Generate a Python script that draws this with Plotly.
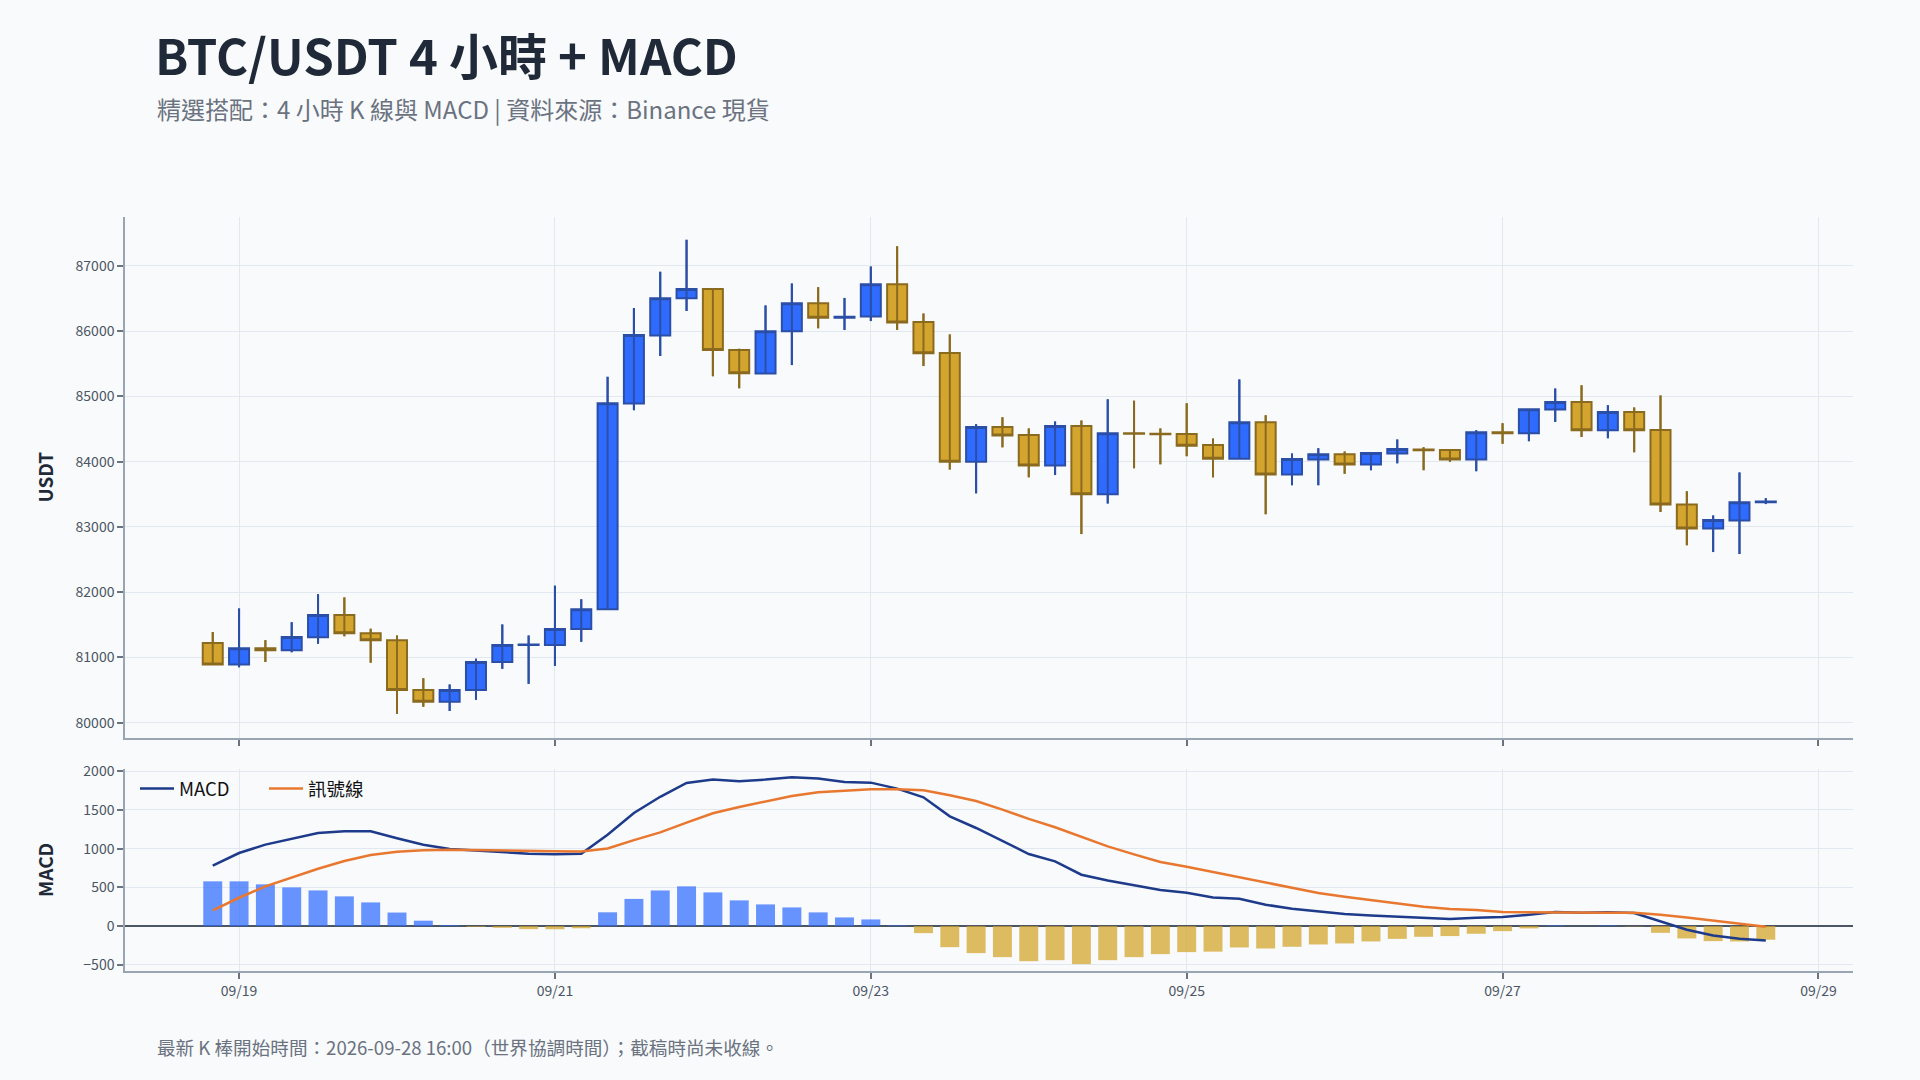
import pandas as pd
import plotly.graph_objects as go

# ---- data (4h candles, first candle 2026-09-18 20:00 UTC) ----
times = pd.date_range("2026-09-18 20:00", periods=60, freq="4h")

opens = [81220, 80890, 81140, 81110, 81310, 81650, 81370, 81265, 80500, 80320,
         80500, 80930, 81190, 81190, 81435, 81740, 84890, 85935, 86505, 86645,
         85710, 85350, 86000, 86430, 86205, 86225, 86720, 86140, 85665, 84000,
         84530, 84410, 83940, 84545, 83500, 84435, 84430, 84425, 84255, 84045,
         84605, 83805, 84035, 84115, 83955, 84125, 84185, 84180, 84035, 84450,
         84435, 84800, 84915, 84480, 84760, 84485, 83345, 82975, 83100, 83380]
highs = [81390, 81750, 81265, 81540, 81970, 81920, 81440, 81335, 80680, 80585,
         80980, 81505, 81335, 82100, 81890, 85300, 86355, 86910, 87400, 86650,
         85730, 86395, 86730, 86675, 86510, 86990, 87300, 86270, 85950, 84575,
         84680, 84510, 84615, 84630, 84955, 84935, 84510, 84895, 84355, 85260,
         84710, 84125, 84205, 84155, 84135, 84340, 84220, 84190, 84480, 84590,
         84805, 85120, 85170, 84865, 84830, 85015, 83545, 83175, 83835, 83440]
lows = [80890, 80850, 80930, 81080, 81210, 81325, 80920, 80135, 80245, 80180,
        80350, 80825, 80595, 80870, 81240, 81735, 84790, 85620, 86310, 85310,
        85125, 85350, 85480, 86045, 86020, 86155, 86020, 85465, 83880, 83515,
        84220, 83760, 83795, 82890, 83360, 83900, 83960, 84085, 83760, 84045,
        83195, 83640, 83640, 83815, 83870, 83975, 83870, 83995, 83855, 84275,
        84315, 84610, 84380, 84360, 84145, 83230, 82720, 82615, 82585, 83350]
closes = [80890, 81140, 81110, 81315, 81650, 81370, 81265, 80500, 80320, 80500,
          80930, 81190, 81200, 81435, 81740, 84895, 85940, 86505, 86645, 85710,
          85355, 86000, 86430, 86205, 86220, 86720, 86135, 85660, 84000, 84530,
          84400, 83940, 84545, 83500, 84435, 84430, 84420, 84245, 84045, 84605,
          83805, 84040, 84115, 83955, 84135, 84195, 84175, 84035, 84450, 84435,
          84805, 84915, 84480, 84760, 84480, 83345, 82975, 83105, 83380, 83390]

macd = [780, 944, 1052, 1129, 1202, 1224, 1224, 1135, 1050, 996,
        974, 957, 935, 927, 935, 1181, 1461, 1670, 1849, 1892,
        1871, 1892, 1922, 1905, 1862, 1853, 1776, 1664, 1418, 1267,
        1103, 931, 836, 664, 590, 526, 465, 431, 370, 353,
        276, 224, 190, 155, 138, 125, 112, 91, 108, 116,
        147, 181, 172, 180, 168, 60, -47, -121, -164, -185]
signal = [202, 366, 513, 629, 741, 840, 918, 960, 980, 985,
          983, 979, 974, 968, 963, 1003, 1110, 1210, 1336, 1457,
          1539, 1612, 1681, 1728, 1750, 1767, 1767, 1755, 1690, 1616,
          1504, 1384, 1276, 1155, 1030, 927, 827, 767, 700, 629,
          565, 491, 427, 379, 336, 290, 250, 220, 207, 181,
          177, 172, 172, 172, 172, 147, 112, 73, 34, -9]
hist = [578, 578, 539, 500, 461, 384, 306, 175, 70, 11,
        -9, -22, -39, -41, -28, 178, 351, 460, 513, 435,
        332, 280, 241, 177, 112, 86, 9, -91, -272, -349,
        -401, -453, -440, -491, -440, -401, -362, -336, -330, -276,
        -289, -267, -237, -224, -198, -165, -138, -129, -99, -65,
        -30, 9, 0, 8, -4, -87, -159, -194, -198, -176]

x_ticks = ["2026-09-19", "2026-09-21", "2026-09-23", "2026-09-25", "2026-09-27", "2026-09-29"]
x_tick_labels = ["09/19", "09/21", "09/23", "09/25", "09/27", "09/29"]

# ---- style ----
FONT = "Noto Sans CJK TC"
BG = "#F8FAFC"
GRID = "#E2E8F0"
AXIS = "#9AA5B4"
TICKFONT = dict(family=FONT, size=14, color="#4B5563")
UP_FILL, UP_LINE = "#2F6BFF", "#2B4FA6"
DN_FILL, DN_LINE = "#D4A52E", "#8A6A1E"

fig = go.Figure()
fig.add_trace(go.Candlestick(
    x=times, open=opens, high=highs, low=lows, close=closes,
    increasing=dict(fillcolor=UP_FILL, line=dict(color=UP_LINE, width=2)),
    decreasing=dict(fillcolor=DN_FILL, line=dict(color=DN_LINE, width=2)),
    showlegend=False, xaxis="x", yaxis="y", name="K", whiskerwidth=0))

# wicks drawn through the bodies (high-low segments)
for is_up, col in ((True, UP_LINE), (False, DN_LINE)):
    wx, wy = [], []
    for t, o, h, l, c in zip(times, opens, highs, lows, closes):
        if (c >= o) == is_up:
            wx += [t, t, None]
            wy += [l, h, None]
    fig.add_trace(go.Scatter(x=wx, y=wy, mode="lines", line=dict(color=col, width=2),
                             hoverinfo="skip", showlegend=False, xaxis="x", yaxis="y"))

bar_colors = ["rgba(47,107,255,0.72)" if v >= 0 else "rgba(212,165,46,0.75)" for v in hist]
fig.add_trace(go.Bar(x=times, y=hist, marker=dict(color=bar_colors, line=dict(width=0)),
                     width=4 * 3600 * 1000 * 0.72, showlegend=False, xaxis="x2", yaxis="y2", name="柱狀"))
fig.add_trace(go.Scatter(x=times, y=macd, mode="lines", name="MACD",
                         line=dict(color="#1E3A8A", width=2.5), xaxis="x2", yaxis="y2"))
fig.add_trace(go.Scatter(x=times, y=signal, mode="lines", name="訊號線",
                         line=dict(color="#E8782F", width=2.5), xaxis="x2", yaxis="y2"))

xr = ["2026-09-18 06:40", "2026-09-29 05:15"]
common_x = dict(type="date", range=xr, tickvals=x_ticks, ticktext=x_tick_labels,
                showgrid=True, gridcolor=GRID, gridwidth=1, showline=True, linecolor=AXIS,
                linewidth=1.5, ticks="outside", ticklen=6, tickcolor="#6B7280", tickwidth=1.5,
                tickfont=TICKFONT, zeroline=False)
common_y = dict(showgrid=True, gridcolor=GRID, gridwidth=1, showline=True, linecolor=AXIS,
                linewidth=1.5, ticks="outside", ticklen=6, tickcolor="#6B7280", tickwidth=1.5,
                tickfont=TICKFONT)

fig.update_layout(
    width=1920, height=1080,
    paper_bgcolor=BG, plot_bgcolor=BG,
    margin=dict(l=125, r=67, t=217, b=109),
    font=dict(family=FONT, color="#1F2937"),
    title=dict(text="<b>BTC/USDT 4 小時 + MACD</b>", x=155 / 1920, xanchor="left", xref="container",
               y=1 - 58 / 1080, yanchor="middle", yref="container",
               font=dict(family=FONT, size=49, color="#1F2937")),
    xaxis=dict(domain=[0, 1], anchor="y", showticklabels=False, rangeslider=dict(visible=False), **common_x),
    yaxis=dict(domain=[0.309, 1], anchor="x", range=[79765, 87750], dtick=1000, tickformat="d",
               zeroline=False, **common_y),
    xaxis2=dict(domain=[0, 1], anchor="y2", **common_x),
    yaxis2=dict(domain=[0, 0.268], anchor="x2", range=[-580, 2030], tickvals=[-500, 0, 500, 1000, 1500, 2000],
                zeroline=True, zerolinecolor="#4B5563", zerolinewidth=2, **common_y),
    legend=dict(orientation="h", x=(135 - 125) / 1728, y=0.2414, xanchor="left", yanchor="middle",
                bgcolor="rgba(0,0,0,0)", font=dict(family=FONT, size=18.5, color="#111111"),
                itemwidth=34, entrywidth=80, entrywidthmode="pixels", tracegroupgap=0),
    boxgap=0.24, boxgroupgap=0,
    annotations=[
        dict(text="精選搭配：4 小時 K 線與 MACD | 資料來源：Binance 現貨", xref="paper", yref="paper",
             x=30 / 1728, y=(971 - 108) / 754, xanchor="left", yanchor="middle", showarrow=False,
             font=dict(family=FONT, size=24, color="#6B7280")),
        dict(text="最新 K 棒開始時間：2026-09-28 16:00（世界協調時間）；截稿時尚未收線。", xref="paper", yref="paper",
             x=30 / 1728, y=(971 - 1046) / 754, xanchor="left", yanchor="middle", showarrow=False,
             font=dict(family=FONT, size=18.6, color="#6B7280")),
        dict(text="<b>USDT</b>", xref="paper", yref="paper", x=(44 - 125) / 1728, y=(971 - 477.5) / 754,
             xanchor="center", yanchor="middle", textangle=-90, showarrow=False,
             font=dict(family=FONT, size=19, color="#1F2937")),
        dict(text="<b>MACD</b>", xref="paper", yref="paper", x=(44 - 125) / 1728, y=(971 - 870) / 754,
             xanchor="center", yanchor="middle", textangle=-90, showarrow=False,
             font=dict(family=FONT, size=19, color="#1F2937")),
    ],
)

fig.write_html("out.html", config={"displayModeBar": False},
               post_script="document.body.style.margin='0';document.body.style.background='#F8FAFC';")
